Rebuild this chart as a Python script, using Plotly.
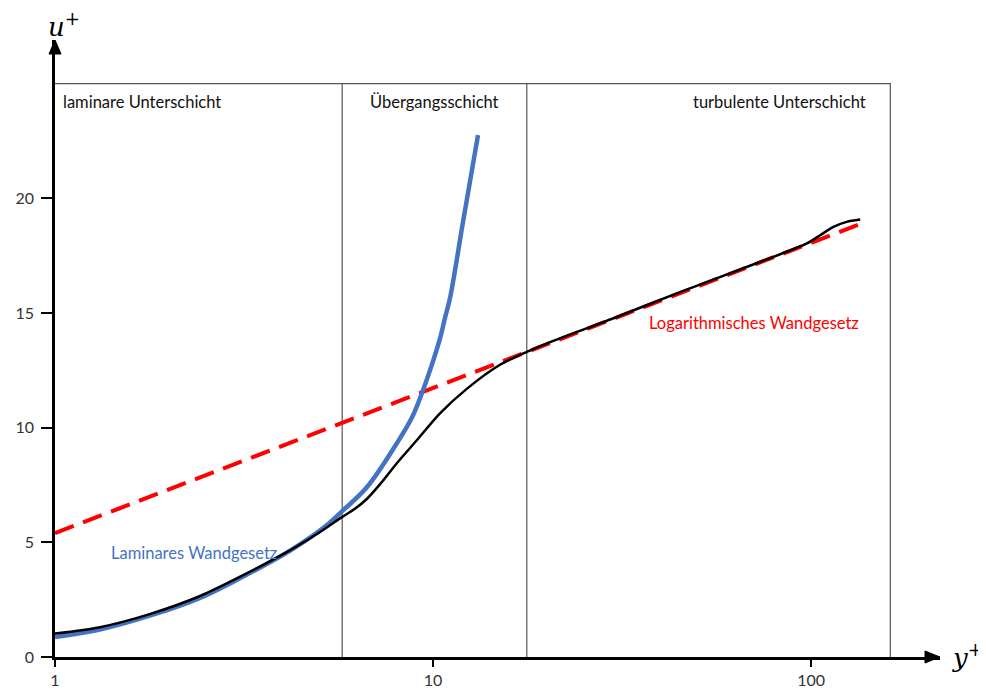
import plotly.graph_objects as go

# ---- data ----
black_y = [1.0, 1.315, 1.78, 2.42, 3.09, 4.19, 5.12, 5.74, 6.2, 6.69, 7.3, 8.03, 9.07, 10.4, 12.3, 15.0, 17.7, 20.4, 30.0, 45.0, 70.0, 97.5, 105.7, 114.6, 124.2, 134.9]
black_u = [1.02, 1.30, 1.87, 2.66, 3.50, 4.66, 5.54, 6.10, 6.45, 6.90, 7.60, 8.46, 9.46, 10.60, 11.70, 12.73, 13.30, 13.73, 14.77, 15.91, 17.10, 18.03, 18.39, 18.75, 18.97, 19.07]

blue_y = [1.0, 1.315, 1.78, 2.42, 3.09, 4.19, 5.12, 5.74, 6.69, 8.03, 8.8, 9.41, 10.0, 10.44, 10.76, 11.09, 12.0, 13.15]
blue_u = [0.87, 1.20, 1.80, 2.58, 3.44, 4.64, 5.62, 6.35, 7.41, 9.33, 10.45, 11.64, 12.9, 13.9, 14.8, 15.65, 18.96, 22.75]

red_y = [1.0, 139.0]
red_u = [5.4, 18.96]

box_x = [1.0, 162.0]
box_top = 25.0
boundaries = [5.75, 17.7]

x_ticks = [1, 10, 100]
y_ticks = [0, 5, 10, 15, 20]

x_range_log = [0, 2.341]
y_range = [0, 26.9]

region_labels = ["laminare Unterschicht", "Übergangsschicht", "turbulente Unterschicht"]
blue_label = "Laminares Wandgesetz"
red_label = "Logarithmisches Wandgesetz"

FONT = "Lato"
BLUE = "#4472C4"
RED = "#FF0000"
GRAY = "#555555"

fig = go.Figure()

# box and region boundaries
fig.add_trace(go.Scatter(x=[box_x[0], box_x[1], box_x[1]], y=[box_top, box_top, 0],
                         mode="lines", line=dict(color=GRAY, width=1.2), hoverinfo="skip", showlegend=False))
for b in boundaries:
    fig.add_trace(go.Scatter(x=[b, b], y=[0, box_top], mode="lines",
                             line=dict(color=GRAY, width=1.2), hoverinfo="skip", showlegend=False))

# red log law
fig.add_trace(go.Scatter(x=red_y, y=red_u, mode="lines",
                         line=dict(color=RED, width=4, dash="20px,10px"), showlegend=False))
# blue laminar law
fig.add_trace(go.Scatter(x=blue_y, y=blue_u, mode="lines",
                         line=dict(color=BLUE, width=4.5, shape="spline", smoothing=1.0), showlegend=False))
# black profile
fig.add_trace(go.Scatter(x=black_y, y=black_u, mode="lines",
                         line=dict(color="black", width=2.5, shape="spline", smoothing=0.7), showlegend=False))

# ---- layout ----
# page body has an 8px margin; figure offset accordingly
W, H = 978, 683
OFF = 8
plot_left, plot_right, plot_top, plot_bottom = 55, 940, 40, 657  # window pixels
ml = plot_left - OFF
mr = W - (plot_right - OFF)
mt = plot_top - OFF
mb = H - (plot_bottom - OFF)
pw = plot_right - plot_left
ph = plot_bottom - plot_top

def px_x(p):
    return (p - plot_left) / pw

def px_y(p):
    return (plot_bottom - p) / ph

annotations = []
label_font = dict(family=FONT, size=16.5, color="#111111")
annotations.append(dict(text=region_labels[0], x=px_x(61), y=px_y(102), xref="paper", yref="paper",
                        xanchor="left", yanchor="middle", showarrow=False, font=label_font))
annotations.append(dict(text=region_labels[1], x=px_x(434), y=px_y(102), xref="paper", yref="paper",
                        xanchor="center", yanchor="middle", showarrow=False, font=label_font))
annotations.append(dict(text=region_labels[2], x=px_x(868), y=px_y(102), xref="paper", yref="paper",
                        xanchor="right", yanchor="middle", showarrow=False, font=label_font))
annotations.append(dict(text=blue_label, x=px_x(109), y=px_y(553), xref="paper", yref="paper",
                        xanchor="left", yanchor="middle", showarrow=False,
                        font=dict(family=FONT, size=16.5, color=BLUE)))
annotations.append(dict(text=red_label, x=px_x(861), y=px_y(323), xref="paper", yref="paper",
                        xanchor="right", yanchor="middle", showarrow=False,
                        font=dict(family=FONT, size=16.5, color=RED)))
# axis titles
annotations.append(dict(text="<i>u</i><sup>+</sup>", x=px_x(46), y=px_y(25), xref="paper", yref="paper",
                        xanchor="left", yanchor="middle", showarrow=False,
                        font=dict(family="DejaVu Serif", size=26, color="black")))
annotations.append(dict(text="<i>y</i><sup>+</sup>", x=px_x(950), y=px_y(656), xref="paper", yref="paper",
                        xanchor="left", yanchor="middle", showarrow=False,
                        font=dict(family="DejaVu Serif", size=26, color="black")))

# arrowheads
basex = px_x(925)
hh = 6 / ph
shapes = [
    dict(type="path", xref="paper", yref="paper",
         path=f"M 1,0 L {basex},{hh} L {basex},{-hh} Z",
         fillcolor="black", line=dict(color="black", width=1)),
]
basey = px_y(54)
hw = 6 / pw
shapes.append(dict(type="path", xref="paper", yref="paper",
                   path=f"M 0,1 L {hw},{basey} L {-hw},{basey} Z",
                   fillcolor="black", line=dict(color="black", width=1)))

fig.update_layout(
    width=W, height=H,
    margin=dict(l=ml, r=mr, t=mt, b=mb, pad=0, autoexpand=False),
    plot_bgcolor="white", paper_bgcolor="white",
    showlegend=False,
    annotations=annotations,
    shapes=shapes,
    xaxis=dict(type="log", range=x_range_log, tickvals=x_ticks, ticktext=[str(v) for v in x_ticks],
               automargin=False,
               showgrid=False, zeroline=False, showline=True, linecolor="black", linewidth=2.5,
               ticks="outside", ticklen=7, tickwidth=1.5, tickcolor="black",
               tickfont=dict(family=FONT, size=16, color="#333333")),
    yaxis=dict(range=y_range, tickvals=y_ticks, showgrid=False, zeroline=False, automargin=False,
               showline=True, linecolor="black", linewidth=2.5,
               ticks="outside", ticklen=11, tickwidth=1.5, tickcolor="black",
               ticklabelstandoff=4,
               tickfont=dict(family=FONT, size=16, color="#333333")),
)

fig.write_html("out.html", config={"displayModeBar": False})
